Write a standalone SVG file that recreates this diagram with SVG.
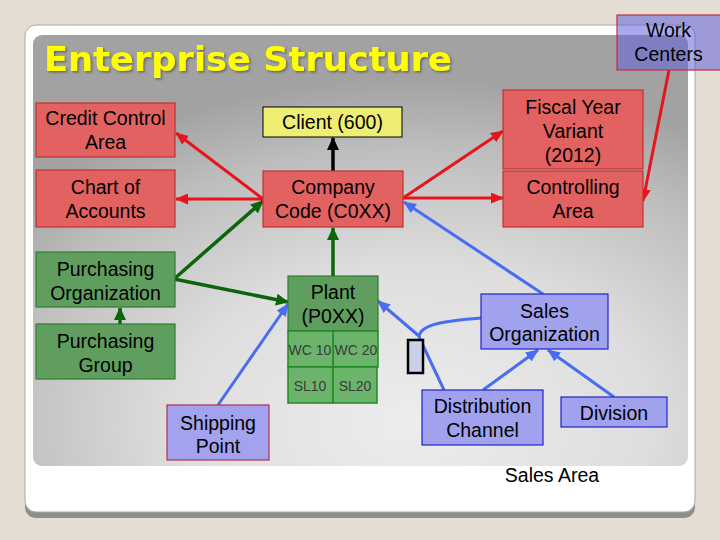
<svg xmlns="http://www.w3.org/2000/svg" width="720" height="540" viewBox="0 0 720 540">
<defs>
<radialGradient id="panelGrad" cx="0.58" cy="0.9" r="0.8" fx="0.58" fy="0.9">
<stop offset="0" stop-color="#ededed"/>
<stop offset="0.45" stop-color="#dedede"/>
<stop offset="0.8" stop-color="#bdbdbd"/>
<stop offset="1" stop-color="#a2a2a2"/>
</radialGradient>
<filter id="tshadow" x="-5%" y="-20%" width="110%" height="150%">
<feDropShadow dx="1.5" dy="1.5" stdDeviation="0.8" flood-color="#555" flood-opacity="0.8"/>
</filter>
<marker id="aRed" markerUnits="userSpaceOnUse" markerWidth="13" markerHeight="11" refX="12" refY="5.5" orient="auto"><path d="M0,0 L13,5.5 L0,11 z" fill="#e8141c"/></marker>
<marker id="aGreen" markerUnits="userSpaceOnUse" markerWidth="13" markerHeight="12" refX="12" refY="6" orient="auto"><path d="M0,0 L13,6 L0,12 z" fill="#0c640c"/></marker>
<marker id="aBlue" markerUnits="userSpaceOnUse" markerWidth="13" markerHeight="11" refX="12" refY="5.5" orient="auto"><path d="M0,0 L13,5.5 L0,11 z" fill="#4a6cf0"/></marker>
<marker id="aBlack" markerUnits="userSpaceOnUse" markerWidth="13" markerHeight="12" refX="12" refY="6" orient="auto"><path d="M0,0 L13,6 L0,12 z" fill="#000"/></marker>
</defs>
<style>
text { font-family: "Liberation Sans", Arial, sans-serif; font-size: 19.5px; fill: #000; text-anchor: middle; }
.red { fill: #e26262; stroke: #c43030; stroke-width: 1.2; }
.grn { fill: #5f9e5f; stroke: #2e7e2e; stroke-width: 1.2; }
.cell { fill: #6cb46c; stroke: #1f8a1f; stroke-width: 1.5; }
.blu { fill: #a0a2ee; stroke: #2424c8; stroke-width: 1.2; }
.small { font-size: 14px; fill: #3a3a3a; }
.lr { stroke: #e8141c; stroke-width: 3; fill: none; marker-end: url(#aRed); }
.lg { stroke: #0c640c; stroke-width: 3.5; fill: none; marker-end: url(#aGreen); }
.lb { stroke: #4a6cf0; stroke-width: 3; fill: none; }
.lbk { stroke: #000; stroke-width: 3.5; fill: none; marker-end: url(#aBlack); }
</style>
<rect x="0" y="0" width="720" height="540" fill="#e4ddd3"/>
<rect x="25" y="30" width="670" height="488" rx="11" fill="#8e8e8e"/>
<rect x="25" y="25" width="670" height="487" rx="11" fill="#ffffff" stroke="#a8a8a8" stroke-width="1"/>
<rect x="33" y="35" width="655" height="431" rx="9" fill="url(#panelGrad)"/>
<text x="44" y="71" textLength="408" lengthAdjust="spacingAndGlyphs" style="font-family:'DejaVu Sans',Verdana,sans-serif;font-weight:bold;font-size:33px;fill:#ffff00;text-anchor:start" filter="url(#tshadow)">Enterprise Structure</text>

<g id="connectors">
<line class="lr" x1="263" y1="199" x2="176" y2="133"/>
<line class="lr" x1="263" y1="199" x2="176" y2="199"/>
<line class="lr" x1="403" y1="198" x2="503" y2="131"/>
<line class="lr" x1="403" y1="198" x2="503" y2="198"/>
<line class="lr" x1="669" y1="70" x2="643" y2="201"/>
<line class="lbk" x1="333" y1="171" x2="333" y2="138"/>
<line class="lg" x1="174" y1="279" x2="263" y2="201"/>
<line class="lg" x1="174" y1="279" x2="288" y2="302"/>
<line class="lg" x1="333" y1="276" x2="333" y2="228"/>
<line class="lg" x1="120" y1="324" x2="120" y2="308"/>
<line class="lb" x1="218" y1="405" x2="288" y2="304" marker-end="url(#aBlue)"/>
<line class="lb" x1="543" y1="294" x2="404" y2="202" marker-end="url(#aBlue)"/>
<line class="lb" x1="483" y1="390" x2="538" y2="350" marker-end="url(#aBlue)"/>
<line class="lb" x1="614" y1="397" x2="548" y2="350" marker-end="url(#aBlue)"/>
<path class="lb" d="M481,318 C445,321 420,324 419,337"/>
<line class="lb" x1="419" y1="336" x2="378" y2="301" marker-end="url(#aBlue)"/>
<line class="lb" x1="419" y1="337" x2="444" y2="390"/>
</g>

<rect x="408" y="340" width="15" height="33" fill="#c9d0e8" stroke="#000" stroke-width="2.5"/>

<g id="credit-control-area"><rect class="red" x="36" y="103" width="139" height="54"/><text x="105.5" y="125">Credit Control</text><text x="105.5" y="149">Area</text></g>
<g id="chart-of-accounts"><rect class="red" x="36" y="170" width="139" height="57"/><text x="105.5" y="194">Chart of</text><text x="105.5" y="218">Accounts</text></g>
<g id="client"><rect x="263" y="107" width="139" height="30" fill="#eeee72" stroke="#000" stroke-width="1"/><text x="332.5" y="129">Client (600)</text></g>
<g id="company-code"><rect class="red" x="263" y="171" width="140" height="56"/><text x="333" y="194">Company</text><text x="333" y="218">Code (C0XX)</text></g>
<g id="fiscal-year-variant"><rect class="red" x="503" y="90" width="140" height="79"/><text x="573" y="114">Fiscal Year</text><text x="573" y="138">Variant</text><text x="573" y="162">(2012)</text></g>
<g id="controlling-area"><rect class="red" x="503" y="171" width="140" height="56"/><text x="573" y="194">Controlling</text><text x="573" y="218">Area</text></g>
<g id="purchasing-organization"><rect class="grn" x="36" y="252" width="139" height="55"/><text x="105.5" y="276">Purchasing</text><text x="105.5" y="300">Organization</text></g>
<g id="purchasing-group"><rect class="grn" x="36" y="324" width="139" height="55"/><text x="105.5" y="348">Purchasing</text><text x="105.5" y="372">Group</text></g>
<g id="plant"><rect class="grn" x="288" y="276" width="90" height="55"/><text x="333" y="299">Plant</text><text x="333" y="323">(P0XX)</text>
<rect class="cell" x="333" y="331" width="45" height="36"/><rect class="cell" x="288" y="331" width="45" height="36"/>
<rect class="cell" x="288" y="367" width="45" height="36"/><rect class="cell" x="333" y="367" width="44" height="36"/>
<text class="small" x="310" y="355">WC 10</text><text class="small" x="356" y="355">WC 20</text>
<text class="small" x="310" y="391">SL10</text><text class="small" x="355" y="391">SL20</text></g>
<g id="shipping-point"><rect x="167" y="405" width="102" height="55" fill="#a2a2ee" stroke="#b03050" stroke-width="1.2"/><text x="218" y="430">Shipping</text><text x="218" y="453">Point</text></g>
<g id="sales-organization"><rect class="blu" x="481" y="294" width="127" height="55"/><text x="544.5" y="318">Sales</text><text x="544.5" y="341">Organization</text></g>
<g id="distribution-channel"><rect class="blu" x="422" y="390" width="121" height="55"/><text x="482.5" y="413">Distribution</text><text x="482.5" y="437">Channel</text></g>
<g id="division"><rect class="blu" x="561" y="397" width="106" height="30"/><text x="614" y="420">Division</text></g>
<g id="work-centers"><rect x="617" y="15" width="104" height="55" fill="#6060d8" fill-opacity="0.55" stroke="#c03040" stroke-width="1.2"/><text x="668.5" y="37">Work</text><text x="668.5" y="61">Centers</text></g>
<text x="552" y="482">Sales Area</text>
</svg>
